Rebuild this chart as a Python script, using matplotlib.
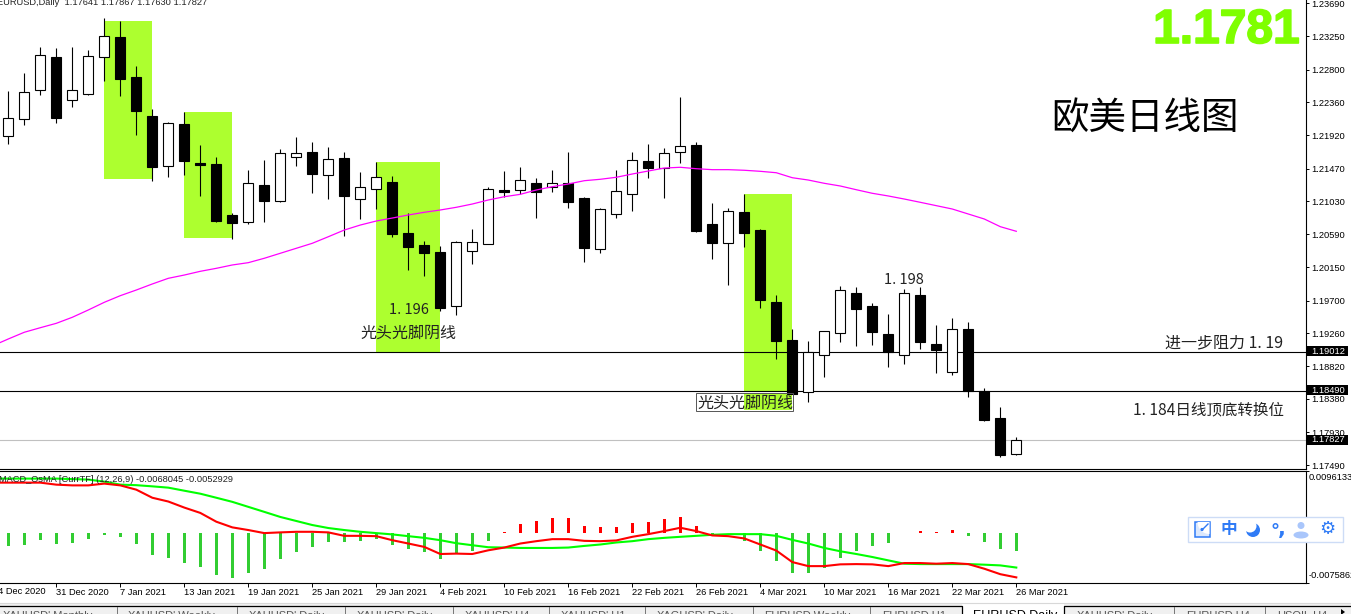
import numpy as np
import matplotlib
matplotlib.use("Agg")
import matplotlib.pyplot as plt
import matplotlib.patheffects as pe
from matplotlib.patches import Rectangle, Circle, Ellipse, Wedge

opens = [1.21905, 1.22133, 1.22522, 1.22969, 1.22388, 1.22469, 1.22965, 1.23237, 1.22701, 1.22177,
         1.21502, 1.22070, 1.21543, 1.21533, 1.20849, 1.20751, 1.21251, 1.21041, 1.21631, 1.21694,
         1.21381, 1.21614, 1.21067, 1.21202, 1.21292, 1.20607, 1.20446, 1.20352, 1.19621, 1.20362,
         1.20464, 1.21184, 1.21180, 1.21278, 1.21229, 1.21274, 1.21073, 1.20396, 1.20866, 1.21135,
         1.21573, 1.21483, 1.21698, 1.21788, 1.20728, 1.20477, 1.20889, 1.20647, 1.19681, 1.19171,
         1.18469, 1.18974, 1.19269, 1.19802, 1.19627, 1.19252, 1.18974, 1.19775, 1.19118, 1.18746,
         1.19319, 1.18483, 1.18124, 1.17641]
highs = [1.22513, 1.22754, 1.23103, 1.23090, 1.23103, 1.23063, 1.23492, 1.23452, 1.22848, 1.22271,
         1.22097, 1.22231, 1.21788, 1.21627, 1.20876, 1.21453, 1.21587, 1.21734, 1.21895, 1.21828,
         1.21761, 1.21694, 1.21426, 1.21560, 1.21372, 1.20876, 1.20500, 1.20433, 1.20500, 1.20657,
         1.21220, 1.21439, 1.21493, 1.21345, 1.21453, 1.21694, 1.21086, 1.20943, 1.21453, 1.21694,
         1.21802, 1.21748, 1.22432, 1.21828, 1.21010, 1.20943, 1.21131, 1.20661, 1.19775, 1.19319,
         1.19158, 1.19288, 1.19896, 1.19882, 1.19668, 1.19520, 1.19856, 1.19882, 1.19372, 1.19466,
         1.19413, 1.18527, 1.18272, 1.17867]
lows = [1.21802, 1.22056, 1.22459, 1.22083, 1.22298, 1.22463, 1.22647, 1.22446, 1.21922, 1.21305,
        1.21359, 1.21385, 1.21104, 1.20755, 1.20527, 1.20728, 1.20755, 1.21023, 1.21506, 1.21144,
        1.21063, 1.20567, 1.20795, 1.20929, 1.20553, 1.20111, 1.20034, 1.19560, 1.19507, 1.20195,
        1.20464, 1.21086, 1.21131, 1.20808, 1.21157, 1.20943, 1.20218, 1.20339, 1.20808, 1.20902,
        1.21345, 1.21077, 1.21547, 1.20621, 1.20258, 1.19909, 1.20419, 1.19601, 1.18916, 1.18447,
        1.18339, 1.18675, 1.19144, 1.19091, 1.19104, 1.18809, 1.18849, 1.19050, 1.18728, 1.18701,
        1.18406, 1.18084, 1.17601, 1.17630]
closes = [1.22146, 1.22495, 1.22992, 1.22154, 1.22522, 1.22978, 1.23247, 1.22674, 1.22244, 1.21493,
          1.22079, 1.21573, 1.21524, 1.20768, 1.20741, 1.21274, 1.21037, 1.21677, 1.21677, 1.21399,
          1.21596, 1.21104, 1.21220, 1.21355, 1.20594, 1.20423, 1.20343, 1.19605, 1.20482, 1.20490,
          1.21194, 1.21161, 1.21314, 1.21161, 1.21274, 1.21023, 1.20406, 1.20925, 1.21167, 1.21583,
          1.21479, 1.21677, 1.21771, 1.20634, 1.20473, 1.20898, 1.20607, 1.19712, 1.19158, 1.18453,
          1.19006, 1.19288, 1.19838, 1.19587, 1.19279, 1.19006, 1.19798, 1.19144, 1.19037, 1.19315,
          1.18483, 1.18098, 1.17628, 1.17827]
# lines start one bar before the first visible candle
ma_values = [1.19091, 1.19185, 1.19275, 1.19336, 1.19395, 1.19476, 1.19574, 1.19677, 1.19766, 1.19842, 1.19923,
             1.19999, 1.20043, 1.20093, 1.20133, 1.20178, 1.20209, 1.20268, 1.20335, 1.20402, 1.20469,
             1.20557, 1.20647, 1.20714, 1.20768, 1.20808, 1.20849, 1.20885, 1.20916, 1.20952, 1.20996,
             1.21050, 1.21094, 1.21126, 1.21184, 1.21229, 1.21265, 1.21309, 1.21328, 1.21355, 1.21399,
             1.21439, 1.21479, 1.21489, 1.21470, 1.21457, 1.21457, 1.21449, 1.21435, 1.21416, 1.21349,
             1.21318, 1.21274, 1.21238, 1.21188, 1.21140, 1.21104, 1.21063, 1.21019, 1.20974, 1.20929,
             1.20862, 1.20795, 1.20692, 1.20630]

# macd pane, in units of 1e-4
macd_line = [77.5, 77.5, 77.5, 77.5, 74.4, 73.3, 73.3, 76, 73.3, 66.7, 54.3,
             48.5, 39.2, 31, 17.5, 8.8, 4.7, 0, 1.1, 2, 2,
             1.1, -4.2, -4.2, -4.7, -10.9, -16, -21.2, -32.1, -31.5, -32.1,
             -26.4, -22.2, -16, -12.4, -9.3, -9.3, -11.9, -12.4, -11.3, -5.7,
             -1.6, 3.1, 8.2, 3.1, -3.6, -4.7, -8.2, -17.5, -26.8, -44.5,
             -50.7, -50.7, -48, -47.6, -48, -50.7, -46, -46, -47, -46,
             -47.6, -54.7, -63.1, -68.0]
signal_line = [83.7, 83.7, 83.7, 83.7, 83.7, 82.9, 82.2, 79, 74.4, 73.6, 71.8,
               69.8, 65.1, 60.5, 54.3, 48, 40.3, 32.6, 24.8, 18.6, 12.4,
               7.8, 4.7, 2, 0, -2, -4.7, -7.3, -10.9, -15.5, -18.6,
               -21.7, -22.2, -22.8, -22.8, -22.8, -22.2, -19.7, -17.5, -14.4, -12.4,
               -9.3, -7.3, -5.7, -4.2, -2.6, -1.6, -1.6, -1.6, -4.2, -10.4,
               -16, -22.8, -27.9, -32.1, -36.7, -41.9, -47, -47.6, -47.6, -47.6,
               -47.6, -48.5, -49.6, -52.9]
osma_bars = [-20.2, -18.6, -10.9, -17.1, -15.5, -9.3, -3.1, -6.2, -17.1, -34.1,
             -38.8, -46.5, -52.7, -63.6, -68.2, -62, -55.8, -40.3, -29.5, -21.7,
             -14, -14, -12.4, -9.3, -18.6, -24.8, -29.5, -40.3, -31, -27.9,
             -12.4, 1.6, 14, 18.6, 23.3, 23.3, 10.9, 9.3, 9.3, 15.5,
             17.1, 21.7, 24.8, 10.9, -4.7, -0.5, -12.4, -27.9, -43.4, -62,
             -62, -54.3, -38.8, -27.9, -20.2, -15.5, 0.8, 3.1, 1.6, 4.7,
             -4.7, -14, -24.8, -27.9]

price_ticks = [1.23690, 1.23250, 1.22800, 1.22360, 1.21920, 1.21470, 1.21030, 1.20590,
               1.20150, 1.19700, 1.19260, 1.18820, 1.18380, 1.17930, 1.17490]
level_prices = [1.19012, 1.18490, 1.17827]
date_ticks = [3, 7, 11, 15, 19, 23, 27, 31, 35, 39, 43, 47, 51, 55, 59, 63]
date_labels = ["31 Dec 2020", "7 Jan 2021", "13 Jan 2021", "19 Jan 2021", "25 Jan 2021", "29 Jan 2021",
               "4 Feb 2021", "10 Feb 2021", "16 Feb 2021", "22 Feb 2021", "26 Feb 2021", "4 Mar 2021",
               "10 Mar 2021", "16 Mar 2021", "22 Mar 2021", "26 Mar 2021"]
tab_names = ["XAUUSD',Monthly", "XAUUSD',Weekly", "XAUUSD',Daily", "XAUUSD',Daily", "XAUUSD',H4", "XAUUSD',H1",
             "XAGUSD',Daily", "EURUSD,Weekly", "EURUSD,H1", "EURUSD,Daily", "XAUUSD',Daily", "EURUSD,H4", "USOIL,H4"]
tab_starts = [3, 128, 249, 357, 465, 561, 657, 764, 882, 973, 1077, 1186, 1277]
tab_seps = [117, 237, 345, 453, 549, 645, 753, 870, 1174, 1265]

# first bar, last bar, top price, bottom price
highlights = [(6, 9, 1.23452, 1.21332), (11, 14, 1.22231, 1.20540), (23, 27, 1.21560, 1.19012),
              (46, 49, 1.21131, 1.18490), (46, 49, 1.18463, 1.18232)]

W, H = 1351, 614
PRICE_TOP = 1.23734
PRICE_PER_PX = 0.0001342
MAIN_RIGHT = 1305.5
MAIN_BOTTOM = 468.5
SUB_TOP = 470.5
SUB_BOTTOM = 582.5
ZERO_X = -8.3 / 16
XMAX = (MAIN_RIGHT - 8.3) / 16

LABEL_FONT = "Liberation Sans"
CJK = ["Noto Sans CJK SC", "DejaVu Sans"]
LABEL_SIZE = 6.7


def price_px(price):
    return (PRICE_TOP - price) / PRICE_PER_PX


def main():
    fig = plt.figure(figsize=(W / 100, H / 100), dpi=100, facecolor="white")
    ax = fig.add_axes([0, 1 - MAIN_BOTTOM / H, MAIN_RIGHT / W, MAIN_BOTTOM / H])
    ax2 = fig.add_axes([0, 1 - SUB_BOTTOM / H, MAIN_RIGHT / W, (SUB_BOTTOM - SUB_TOP) / H])
    ov = fig.add_axes([0, 0, 1, 1], zorder=10)
    ov.set_xlim(0, W)
    ov.set_ylim(H, 0)
    ov.axis("off")
    ov.patch.set_alpha(0)

    x = np.arange(len(closes))
    x_lines = np.arange(-1, len(closes))
    o = np.array(opens)
    c = np.array(closes)

    # main pane
    for first, last, top, bottom in highlights:
        ax.add_patch(Rectangle((first, bottom), last - first, top - bottom, color="#adff2f", lw=0, zorder=1))
    ax.axhline(level_prices[0], color="black", lw=0.8, zorder=2)
    ax.axhline(level_prices[1], color="black", lw=0.8, zorder=2)
    ax.axhline(level_prices[2], color="#c0c0c0", lw=0.8, zorder=2)
    ax.vlines(x, lows, highs, color="black", lw=0.8, zorder=3)
    up = c >= o
    ax.bar(x[up], (c - o)[up], bottom=o[up], width=0.62, facecolor="white", edgecolor="black", lw=0.8, zorder=4)
    ax.bar(x[~up], (c - o)[~up], bottom=o[~up], width=0.62, facecolor="black", edgecolor="black", lw=0.8, zorder=4)
    ax.plot(x_lines, ma_values, color="#ff00ff", lw=0.9, zorder=5)

    ax.set_xlim(ZERO_X, XMAX)
    ax.set_ylim(PRICE_TOP - MAIN_BOTTOM * PRICE_PER_PX, PRICE_TOP)
    ax.yaxis.tick_right()
    ax.set_yticks(price_ticks)
    ax.set_yticklabels(["%.5f" % t for t in price_ticks], fontsize=LABEL_SIZE, family=LABEL_FONT)
    ax.tick_params(axis="y", length=2.5, width=0.7, pad=1.5)
    ax.set_xticks([])
    for side in ["top", "left"]:
        ax.spines[side].set_visible(False)
    ax.spines["right"].set_linewidth(0.8)
    ax.spines["bottom"].set_linewidth(0.8)

    # macd pane
    bars = np.array(osma_bars) * 1e-4
    ax2.bar(x, bars, width=0.19, color=np.where(bars >= 0, "#ff0000", "#32cd32"), lw=0, zorder=2)
    ax2.plot(x_lines, np.array(signal_line) * 1e-4, color="#00ff00", lw=1.5, zorder=3)
    ax2.plot(x_lines, np.array(macd_line) * 1e-4, color="#ff0000", lw=1.5, zorder=4)
    ax2.set_xlim(ZERO_X, XMAX)
    ax2.set_ylim(-0.0075862, 0.0096133)
    ax2.yaxis.tick_right()
    ax2.set_yticks([-0.0075862, 0.0096133])
    ax2.set_yticklabels(["", ""])
    ax2.set_xticks(date_ticks)
    ax2.set_xticklabels(date_labels, fontsize=LABEL_SIZE, family=LABEL_FONT, ha="left")
    ax2.tick_params(axis="x", length=2.8, width=0.7, pad=1.5)
    ax2.tick_params(axis="y", length=2, width=0.7)
    ax2.spines["left"].set_visible(False)
    for side in ["top", "right", "bottom"]:
        ax2.spines[side].set_linewidth(0.8)

    # price boxes on the right axis
    for p in level_prices:
        y = price_px(p)
        ov.add_patch(Rectangle((1307, y - 5.5), 41, 10, color="black", lw=0))
        ov.text(1311.5, y - 0.5, "%.5f" % p, color="white", fontsize=LABEL_SIZE, family=LABEL_FONT,
                va="center", ha="left")

    # header and pane labels
    ov.text(-3, 2.5, "EURUSD,Daily  1.17641 1.17867 1.17630 1.17827", fontsize=LABEL_SIZE, family=LABEL_FONT,
            va="center", ha="left", color="#222222")
    ov.text(-1, 479.5, "MACD_OsMA [CurrTF] (12,26,9) -0.0068045 -0.0052929", fontsize=LABEL_SIZE,
            family=LABEL_FONT, va="center", ha="left", color="#222222")
    ov.text(1309, 477.5, "0.0096133", fontsize=LABEL_SIZE, family=LABEL_FONT, va="center", ha="left")
    ov.text(1309, 576, "-0.0075862", fontsize=LABEL_SIZE, family=LABEL_FONT, va="center", ha="left")
    ov.text(-7, 591, "24 Dec 2020", fontsize=LABEL_SIZE, family=LABEL_FONT, va="center", ha="left")

    # chart annotations
    big = ov.text(1299.5, 30.5, "1.1781", color="#7fff00", fontsize=34.5, fontweight="bold",
                  family="Liberation Sans", va="center", ha="right")
    big.set_path_effects([pe.withStroke(linewidth=1.2, foreground="#7fff00")])
    ov.text(1144.5, 118, "欧美日线图", fontsize=27, family=CJK, va="center", ha="center", color="black")
    ov.text(904, 280, "1. 198", fontsize=10.5, family=CJK, va="center", ha="center", color="#222222")
    ov.text(1224.5, 342.5, "进一步阻力 1. 19", fontsize=11.5, family=CJK, va="center", ha="center", color="#222222")
    ov.text(1208.5, 410, "1. 184日线顶底转换位", fontsize=11.2, family=CJK, va="center", ha="center", color="#222222")
    ov.text(408.5, 310, "1. 196", fontsize=10.5, family=CJK, va="center", ha="center", color="#222222")
    ov.text(408.5, 333, "光头光脚阴线", fontsize=11.5, family=CJK, va="center", ha="center", color="#222222")
    ov.text(745, 403, "光头光脚阴线", fontsize=11.5, family=CJK, va="center", ha="center", color="#222222")
    ov.add_patch(Rectangle((696, 393), 97, 18, fill=False, edgecolor="#555555", lw=0.7))

    # tab strip
    ov.add_patch(Rectangle((0, 604), W, 10, color="#f0f0f0", lw=0))
    ov.plot([0, W], [603, 603], color="#d8d8d8", lw=0.8)
    ov.add_patch(Rectangle((962, 604), 102, 10, color="white", lw=0))
    ov.plot([0, 962, 962], [605.5, 605.5, 614], color="black", lw=0.9)
    ov.plot([1064, 1064, W], [614, 605.5, 605.5], color="black", lw=0.9)
    for sep in tab_seps:
        ov.plot([sep, sep], [607, 614], color="#777777", lw=0.7)
    for name, start in zip(tab_names, tab_starts):
        active = name == "EURUSD,Daily"
        ov.text(start, 611 if not active else 610, name, fontsize=9 if active else 8, family=LABEL_FONT,
                va="top", ha="left", color="black" if active else "#555555")
    ov.fill([1341, 1345, 1341], [609, 612, 615], color="black", lw=0)

    # floating toolbar
    blue = "#2f7bf6"
    ov.add_patch(Rectangle((1187.5, 517), 155, 24.5, facecolor="white", edgecolor="#cddcf6", lw=1))
    ov.add_patch(Rectangle((1194.5, 522), 15, 15, facecolor="#dbe8fd", edgecolor=blue, lw=1.1))
    ov.add_patch(Wedge((1209.5, 522), 12, 90, 180, facecolor="white", lw=0))
    ov.plot([1202, 1208], [530, 524], color=blue, lw=1)
    ov.add_patch(Circle((1202, 529.5), 1.6, color=blue, lw=0))
    ov.text(1229, 529, "中", fontsize=12, fontweight="bold", family=CJK, color=blue, va="center", ha="center")
    ov.add_patch(Circle((1253, 530), 7, color=blue, lw=0))
    ov.add_patch(Circle((1250, 526), 6.5, color="white", lw=0))
    ov.add_patch(Circle((1275.5, 526), 2.2, facecolor="white", edgecolor=blue, lw=1.1))
    ov.text(1282, 529, ",", fontsize=15, fontweight="bold", color=blue, va="center", ha="center")
    ov.add_patch(Circle((1301, 525.5), 3.5, color="#a9c6fb", lw=0))
    ov.add_patch(Ellipse((1301, 535), 15, 7, color="#a9c6fb", lw=0))
    ov.text(1327, 529.5, "⚙", fontsize=13, color=blue, va="center", ha="center", family="DejaVu Sans")

    fig.savefig("out.png", dpi=100)
    plt.close(fig)


if __name__ == "__main__":
    main()
